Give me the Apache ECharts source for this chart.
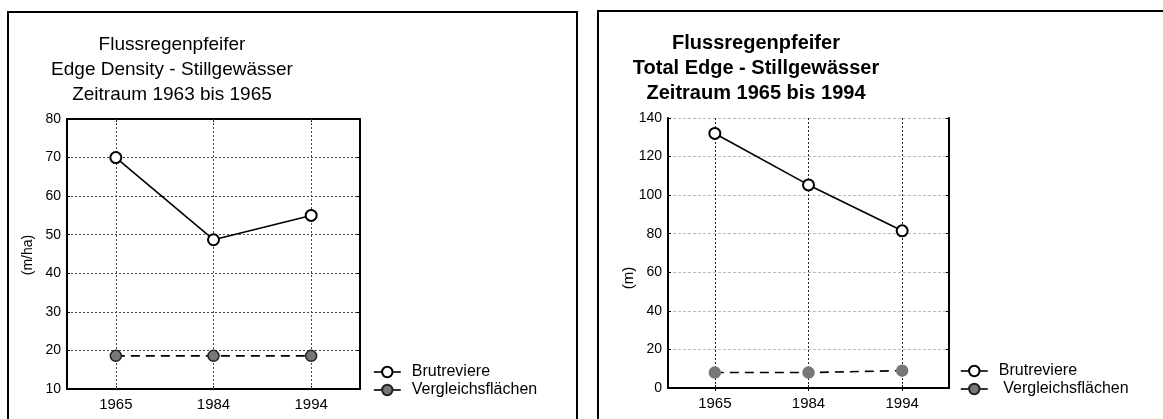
<!DOCTYPE html>
<html>
<head>
<meta charset="utf-8">
<script src="https://cdn.jsdelivr.net/npm/echarts@6/dist/echarts.min.js"></script>
<style>
  html, body { margin: 0; padding: 0; background: #fff; }
  #chart { width: 1163px; height: 419px; }
</style>
</head>
<body>
<div id="chart"></div>
<script>
// Survey years
const years = ['1965', '1984', '1994'];

// Edge Density (m/ha)
const densityBrutreviere = [70, 48.7, 55];
const densityVergleich = [18.6, 18.6, 18.6];

// Total Edge (m)
const totalBrutreviere = [132, 105.3, 81.5];
const totalVergleich = [8, 8, 9];

// Axis ranges
const densityAxis = { min: 10, max: 80, interval: 10 };
const totalAxis = { min: 0, max: 140, interval: 20 };

const seriesNames = ['Brutreviere', 'Vergleichsflächen'];

const FONT = '"Liberation Sans", Arial, sans-serif';

const chart = echarts.init(document.getElementById('chart'), null, { renderer: 'canvas' });

function xAxes(gridIndex) {
  return [
    {
      type: 'category', gridIndex, data: years, position: 'bottom',
      boundaryGap: true,
      axisLine: { lineStyle: { color: '#000', width: 2 } },
      axisTick: { show: true, inside: true, length: 3, alignWithLabel: true, lineStyle: { color: '#000' } },
      axisLabel: { color: '#000', fontSize: 15, fontFamily: FONT, margin: 8 },
      splitLine: { show: false }
    },
    {
      type: 'category', gridIndex, data: years, position: 'top',
      boundaryGap: true,
      axisLine: { lineStyle: { color: '#000', width: 2 } },
      axisTick: { show: true, inside: true, length: 3, alignWithLabel: true, lineStyle: { color: '#000' } },
      axisLabel: { show: false },
      splitLine: { show: false }
    }
  ];
}

function yAxes(gridIndex, range, hGridColor, hGridType) {
  return [
    {
      type: 'value', gridIndex, position: 'left',
      min: range.min, max: range.max, interval: range.interval,
      axisLine: { show: true, lineStyle: { color: '#000', width: 2 } },
      axisTick: { show: true, inside: true, length: 3, lineStyle: { color: '#000' } },
      axisLabel: { color: '#000', fontSize: 14, fontFamily: FONT, margin: 6 },
      splitLine: { show: true, lineStyle: { color: hGridColor, type: hGridType, width: 1 } }
    },
    {
      type: 'value', gridIndex, position: 'right',
      min: range.min, max: range.max, interval: range.interval,
      axisLine: { show: true, lineStyle: { color: '#000', width: 2 } },
      axisTick: { show: true, inside: true, length: 3, lineStyle: { color: '#000' } },
      axisLabel: { show: false },
      splitLine: { show: false }
    }
  ];
}

// vertical grid lines through each survey year
function yearGridLines(color, type) {
  return {
    silent: true,
    symbol: 'none',
    label: { show: false },
    lineStyle: { color, type, width: 1 },
    emphasis: { disabled: true },
    z: 1,
    data: years.map(y => ({ xAxis: y }))
  };
}

function brutSeries(xi, yi, data, gridColor, gridType) {
  return {
    name: seriesNames[0], type: 'line', xAxisIndex: xi, yAxisIndex: yi, data,
    symbol: 'circle', symbolSize: 11,
    itemStyle: { color: '#fff', borderColor: '#000', borderWidth: 2 },
    lineStyle: { color: '#000', width: 1.6, type: 'solid' },
    markLine: yearGridLines(gridColor, gridType),
    z: 5
  };
}

function verglSeries(xi, yi, data, border) {
  return {
    name: seriesNames[1], type: 'line', xAxisIndex: xi, yAxisIndex: yi, data,
    symbol: 'circle', symbolSize: 11,
    itemStyle: { color: '#777', borderColor: border, borderWidth: 1.5 },
    lineStyle: { color: '#000', width: 1.6, type: [9, 6] },
    z: 5
  };
}

const legendBase = {
  orient: 'vertical',
  itemWidth: 27, itemHeight: 13, itemGap: 2,
  textStyle: { color: '#000', fontSize: 16, fontFamily: FONT, padding: [0, 0, 0, 6] },
  lineStyle: { type: 'solid', width: 1.6 },
  selectedMode: false,
  data: seriesNames
};

chart.setOption({
  animation: false,
  backgroundColor: '#fff',
  title: [
    {
      text: 'Flussregenpfeifer\nEdge Density - Stillgewässer\nZeitraum 1963 bis 1965',
      left: 167, top: 27, textAlign: 'center',
      textStyle: { color: '#000', fontSize: 19, fontWeight: 'normal', fontFamily: FONT, lineHeight: 25, align: 'center' }
    },
    {
      text: 'Flussregenpfeifer\nTotal Edge - Stillgewässer\nZeitraum 1965 bis 1994',
      left: 751, top: 26, textAlign: 'center',
      textStyle: { color: '#000', fontSize: 20, fontWeight: 'bold', fontFamily: FONT, lineHeight: 25, align: 'center' }
    }
  ],
  grid: [
    { left: 67, top: 119, width: 293, height: 270, containLabel: false },
    { left: 668, top: 118, width: 281, height: 270, containLabel: false }
  ],
  xAxis: [
    ...xAxes(0),
    ...xAxes(1)
  ],
  yAxis: [
    ...yAxes(0, densityAxis, '#444', [2, 2]),
    ...yAxes(1, totalAxis, '#bbb', [3, 2])
  ],
  legend: [
    Object.assign({}, legendBase, { left: 368, top: 359 }),
    Object.assign({}, legendBase, {
      left: 955, top: 358,
      formatter: name => name === seriesNames[1] ? ' ' + name : name
    })
  ],
  series: [
    brutSeries(0, 0, densityBrutreviere, '#444', [2, 2]),
    verglSeries(0, 0, densityVergleich, '#222'),
    brutSeries(2, 2, totalBrutreviere, '#222', [2, 2]),
    verglSeries(2, 2, totalVergleich, '#777')
  ],
  graphic: [
    // panel frames
    { type: 'rect', shape: { x: 8, y: 12, width: 569, height: 420 }, style: { fill: 'none', stroke: '#000', lineWidth: 2 }, silent: true, z: -1 },
    { type: 'rect', shape: { x: 598, y: 11, width: 600, height: 420 }, style: { fill: 'none', stroke: '#000', lineWidth: 2 }, silent: true, z: -1 },
    // y-axis units
    { type: 'text', x: 28, y: 255, rotation: Math.PI / 2, style: { text: '(m/ha)', fill: '#000', font: '14px ' + FONT, align: 'center', verticalAlign: 'middle' } },
    { type: 'text', x: 629, y: 278, rotation: Math.PI / 2, style: { text: '(m)', fill: '#000', font: '15px ' + FONT, align: 'center', verticalAlign: 'middle' } }
  ]
});
</script>
</body>
</html>
